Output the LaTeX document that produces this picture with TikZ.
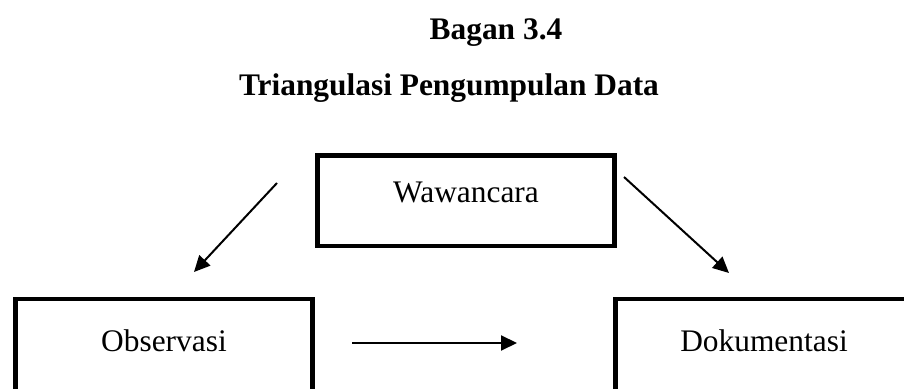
\documentclass[tikz,border=0pt]{standalone}
\usepackage{fontspec}
\setmainfont{Liberation Serif}
\usetikzlibrary{arrows.meta}
\begin{document}
\begin{tikzpicture}[x=0.5pt,y=-0.5pt,
  txt/.style={font=\fontsize{15.7}{18}\selectfont, inner sep=0pt},
  ttl/.style={font=\fontsize{15.7}{18}\selectfont\bfseries, inner sep=0pt, anchor=base},
  box/.style={draw, line width=2.3pt, rectangle, inner sep=0pt, text depth=0pt,
    minimum width=148.7pt, font=\fontsize{15.7}{18}\selectfont},
  arr/.style={line width=1pt, -{Triangle[length=8pt,width=7.5pt]}}]
  \clip (0,0) rectangle (904,389);
  % heading
  \node[ttl] (title1) at (496,40) {Bagan 3.4};
  \node[ttl] (title2) at (449,96) {Triangulasi Pengumpulan Data};
  % the three methods
  \node[box, minimum height=45.2pt, text height=1.5pt] (waw) at (466,201) {Wawancara};
  \node[box, minimum height=50pt, text height=2pt] (obs) at (164,349) {Observasi};
  \node[box, minimum height=50pt, text height=2pt] (dok) at (764,349) {Dokumentasi};
  % arrow ends
  \coordinate (a1s) at (277,183);
  \coordinate (a1e) at (194,272);
  \coordinate (a2s) at (624,177);
  \coordinate (a2e) at (729,273);
  \coordinate (a3s) at (352,343);
  \coordinate (a3e) at (517,343);
  \draw[arr] (a1s) -- (a1e);
  \draw[arr] (a2s) -- (a2e);
  \draw[arr] (a3s) -- (a3e);
\end{tikzpicture}
\end{document}
